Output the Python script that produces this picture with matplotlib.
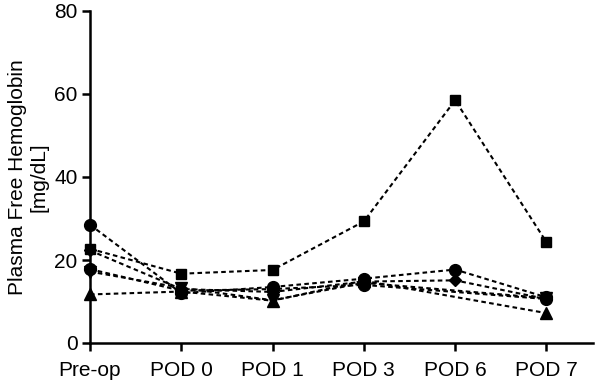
import matplotlib.pyplot as plt

plt.rcParams['font.family'] = ['Liberation Sans', 'DejaVu Sans']

# time points
timepoints = ['Pre-op', 'POD 0', 'POD 1', 'POD 3', 'POD 6', 'POD 7']

# plasma free hemoglobin per patient (mg/dL), None = no sample
pt_circle_a = [28.5, 12.0, 13.5, 15.5, 17.7, 11.0]
pt_square = [22.7, 16.7, 17.6, 29.3, 58.5, 24.3]
pt_diamond = [22.3, 13.0, 12.3, 14.8, 15.1, 10.6]
pt_circle_b = [17.8, 12.6, 13.0, 14.0, None, 10.6]
pt_tri_down = [17.2, 13.3, 10.3, 14.5, None, 10.8]
pt_tri_up = [11.7, 12.4, 10.2, 15.0, None, 7.2]

series = [
    (pt_circle_a, 'o', 8.5),
    (pt_square, 's', 7.5),
    (pt_diamond, 'D', 6),
    (pt_circle_b, 'o', 8.5),
    (pt_tri_down, 'v', 8),
    (pt_tri_up, '^', 8),
]

fig = plt.figure(figsize=(5.96, 3.85), dpi=100)
ax = fig.add_axes([90 / 596, 1 - 343 / 385, (593 - 90) / 596, (343 - 11) / 385])

for vals, mk, ms in series:
    xs = [i for i, v in enumerate(vals) if v is not None]
    ys = [v for v in vals if v is not None]
    ax.plot(xs, ys, linestyle=(0, (2.2, 1.6)), color='black', linewidth=1.5,
            marker=mk, markersize=ms, markerfacecolor='black',
            markeredgecolor='black', clip_on=False, zorder=3)

ax.set_xlim(0, 5.51)
ax.set_ylim(0, 80)
ax.set_xticks(range(len(timepoints)))
ax.set_xticklabels(timepoints)
ax.set_yticks([0, 20, 40, 60, 80])
ax.set_ylabel('Plasma Free Hemoglobin\n[mg/dL]', fontsize=15, linespacing=1.15)
ax.yaxis.set_label_coords(-0.083, 0.5)

for side in ['top', 'right']:
    ax.spines[side].set_visible(False)
for side in ['left', 'bottom']:
    ax.spines[side].set_linewidth(1.8)
ax.tick_params(axis='both', direction='out', length=6, width=1.8,
               labelsize=15, colors='black')
ax.tick_params(axis='x', pad=7)
ax.tick_params(axis='y', pad=3)

fig.savefig('out.png', dpi=100)
